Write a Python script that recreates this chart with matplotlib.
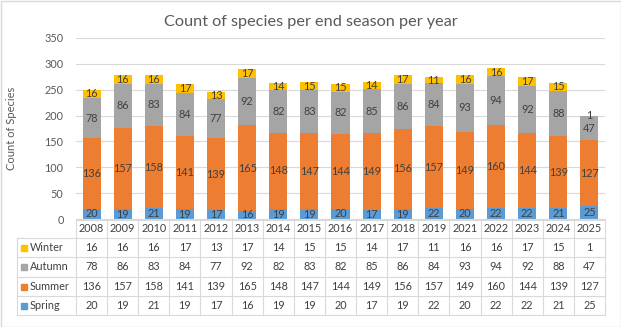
import numpy as np
import matplotlib.pyplot as plt
from matplotlib.patches import Rectangle
from matplotlib.lines import Line2D
from matplotlib.transforms import blended_transform_factory

plt.rcParams['font.family'] = ['Lato', 'DejaVu Sans']

years = ['2008', '2009', '2010', '2011', '2012', '2013', '2014', '2015', '2016',
         '2017', '2018', '2019', '2021', '2022', '2023', '2024', '2025']
spring = [20, 19, 21, 19, 17, 16, 19, 19, 20, 17, 19, 22, 20, 22, 22, 21, 25]
summer = [136, 157, 158, 141, 139, 165, 148, 147, 144, 149, 156, 157, 149, 160, 144, 139, 127]
autumn = [78, 86, 83, 84, 77, 92, 82, 83, 82, 85, 86, 84, 93, 94, 92, 88, 47]
winter = [16, 16, 16, 17, 13, 17, 14, 15, 15, 14, 17, 11, 16, 16, 17, 15, 1]

series = [('Spring', spring, '#5b9bd5'),
          ('Summer', summer, '#ed7d31'),
          ('Autumn', autumn, '#a5a5a5'),
          ('Winter', winter, '#ffc000')]

W, H = 621, 327
left_ax, right_ax = 76, 605
fig = plt.figure(figsize=(W / 100, H / 100), dpi=100)
ax = fig.add_axes([left_ax / W, 1 - 219 / H, (right_ax - left_ax) / W, (219 - 38) / H])

x = np.arange(len(years))
bottom = np.zeros(len(years))
txt = '#404040'
for name, vals, col in series:
    vals = np.array(vals)
    ax.bar(x, vals, 0.58, bottom=bottom, color=col, zorder=2)
    for xi, b, v in zip(x, bottom, vals):
        ax.text(xi, b + v / 2, str(v), ha='center', va='center', fontsize=7.8,
                color=txt, zorder=3)
    bottom += vals

ax.set_xlim(-0.5, len(years) - 0.5)
ax.set_ylim(0, 350)
ax.set_yticks(range(0, 351, 50))
ax.tick_params(axis='y', length=0, labelsize=7.8, labelcolor='#595959', pad=9)
ax.set_xticks([])
ax.grid(axis='y', color='#d9d9d9', linewidth=0.8, zorder=0)
for s in ['top', 'right', 'left']:
    ax.spines[s].set_visible(False)
ax.spines['bottom'].set_color('#d9d9d9')

fig.text(12 / W, 1 - 128 / H, 'Count of Species', rotation=90, ha='center', va='center',
         fontsize=8, color='#595959')
fig.text(311 / W, 1 - 22 / H, 'Count of species per end season per year',
         ha='center', va='center', fontsize=11.7, color='#595959')

# data table below the plot
tr = blended_transform_factory(ax.transData, fig.transFigure)
grid_c = '#d9d9d9'
row_lines = [220, 238, 257, 277, 296, 315]
left_px = 17
xl = -0.5 - (left_ax - left_px) / ((right_ax - left_ax) / len(years))
xr = len(years) - 0.5

def fy(p):
    return 1 - p / H

for i, p in enumerate(row_lines):
    x0 = -0.5 if i == 0 else xl
    fig.add_artist(Line2D([x0, xr], [fy(p), fy(p)], transform=tr, color=grid_c, lw=0.8))
for i in range(len(years) + 1):
    xv = i - 0.5
    fig.add_artist(Line2D([xv, xv], [fy(220), fy(315)], transform=tr, color=grid_c, lw=0.8))
fig.add_artist(Line2D([xl, xl], [fy(238), fy(315)], transform=tr, color=grid_c, lw=0.8))

for xi, yr in zip(x, years):
    fig.text(xi, fy(229), yr, transform=tr, ha='center', va='center', fontsize=7.8, color=txt)

table_rows = [('Winter', winter, '#ffc000'), ('Autumn', autumn, '#a5a5a5'),
              ('Summer', summer, '#ed7d31'), ('Spring', spring, '#5b9bd5')]
for r, (name, vals, col) in enumerate(table_rows):
    yc = fy((row_lines[r + 1] + row_lines[r + 2]) / 2)
    fig.add_artist(Rectangle((21 / W, yc - 3 / H), 6 / W, 6 / H,
                             transform=fig.transFigure, color=col))
    fig.text(30 / W, yc, name, ha='left', va='center', fontsize=7.8, color=txt)
    for xi, v in zip(x, vals):
        fig.text(xi, yc, str(v), transform=tr, ha='center', va='center',
                 fontsize=7.8, color=txt)

fig.add_artist(Rectangle((0.5 / W, 0.5 / H), 1 - 1 / W, 1 - 1 / H,
                         transform=fig.transFigure, fill=False, ec='#d9d9d9', lw=1))

fig.savefig('out.png', dpi=100)
